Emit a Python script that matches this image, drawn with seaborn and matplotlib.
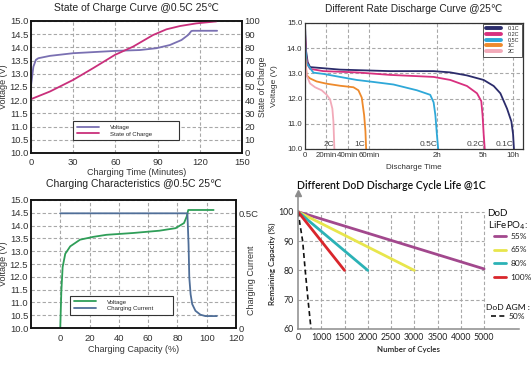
import numpy as np
import matplotlib
matplotlib.use('Agg')
import matplotlib.pyplot as plt
import seaborn as sns

# ---- State of charge curve @0.5C ----
soc_v_time = [0, 1.7, 3.5, 5.2, 13.5, 30, 60.8, 77.4, 89.2, 98.7, 107, 111.7, 114, 115.2, 132.3]
soc_v_volt = [12.55, 13.27, 13.53, 13.59, 13.68, 13.78, 13.87, 13.9, 13.97, 14.09, 14.28, 14.47, 14.62, 14.63, 14.63]
soc_time = [0, 13.5, 30, 44.2, 59.6, 72.6, 86.8, 96.3, 106, 117.6, 131.8]
soc_pct = [40.8, 46.6, 55.4, 64.3, 74.3, 80.6, 89.4, 93.7, 96.2, 98.2, 99.7]

# ---- Different rate discharge (time in hours) ----
rate_names = ['0.1C', '0.2C', '0.5C', '1C', '2C']
rate_colors = ['#2b2c6b', '#d8307f', '#2ea8d8', '#ee8a2c', '#f2aab9']
rate_time = [
    [0, .016, .041, .078, .544, 1.306, 1.946, 2.852, 3.947, 5.107, 6.775, 7.886, 8.996, 9.718, 9.996, 10.1],
    [0, .016, .041, .078, .285, .803, 1.306, 1.946, 2.852, 3.947, 4.604, 4.886, 4.97, 5.107, 5.286],
    [0, .026, .13, .285, .543, .803, 1.06, 1.354, 1.70, 1.896, 1.946, 1.972, 1.994, 2.06],
    [0, .026, .078, .181, .337, .544, .752, .829, .881, .918, .938, .949],
    [0, .026, .078, .156, .259, .337, .389, .425, .441, .456],
]
rate_volt = [
    [14.9, 13.9, 13.45, 13.25, 13.15, 13.09, 13.09, 13.04, 12.92, 12.74, 12.5, 12.21, 11.6, 11.09, 10.59, 10.0],
    [14.6, 13.7, 13.35, 13.18, 13.09, 13.04, 12.94, 12.86, 12.74, 12.5, 12.21, 11.9, 11.34, 10.59, 10.0],
    [14.2, 13.4, 13.03, 12.98, 12.86, 12.74, 12.66, 12.56, 12.33, 12.15, 11.85, 11.34, 10.59, 10.0],
    [13.8, 12.92, 12.8, 12.68, 12.59, 12.51, 12.45, 12.33, 12.04, 11.34, 10.71, 10.0],
    [13.6, 12.92, 12.6, 12.45, 12.33, 12.15, 11.97, 11.6, 11.09, 10.0],
]
time_ticks = [0, 1/3, 2/3, 1, 2, 5, 10]
time_labels = ['0', '20min', '40min', '60min', '2h', '5h', '10h']

# ---- Charging characteristics @0.5C ----
chg_cap = [0, 0.7, 1.6, 3.4, 6.8, 13.5, 22.5, 31.5, 49.5, 67.6, 78.8, 84.5, 86.3, 87.4, 104.7]
chg_volt = [10.03, 11.4, 12.38, 12.9, 13.19, 13.45, 13.56, 13.64, 13.71, 13.8, 13.9, 14.1, 14.35, 14.61, 14.61]
cur_cap = [0, 86.8, 87.6, 88.1, 89.0, 90.1, 92.3, 95.7, 99.1, 106.9]
cur_c = [0.5, 0.5, 0.364, 0.22, 0.147, 0.104, 0.075, 0.058, 0.052, 0.052]

# ---- DoD cycle life ----
dod_names = ['55%', '65%', '80%', '100%']
dod_colors = ['#a2488d', '#e8e64c', '#2bb2b6', '#d9262c']
dod_cycles = [[0, 5000], [0, 3000], [0, 2000], [0, 1500]]
dod_cap = [[100, 80.5], [100, 80], [100, 80], [100, 80]]
agm_cycles = [0, 200, 310, 430, 560]
agm_cap = [100, 90, 80, 70, 60]
cycle_ticks = [0, 1000, 1500, 2000, 2500, 3000, 3500, 4000, 5000]

sns.set_theme(style='white')
plt.rcParams['font.family'] = ['Liberation Sans', 'DejaVu Sans']
plt.rcParams['axes.unicode_minus'] = False

fig = plt.figure(figsize=(5.32, 3.69), dpi=100)
W, H = 532, 369


def add_ax(l, t, r, b):
    return fig.add_axes([l / W, 1 - b / H, (r - l) / W, (b - t) / H])


def interp_scale(vals, pos):
    vals = np.asarray(vals, float)
    pos = np.asarray(pos, float)
    return (lambda x: np.interp(x, vals, pos), lambda p: np.interp(p, pos, vals))


grid_kw = dict(color='#a8a8a8', linestyle=(0, (3, 2)), linewidth=0.8)
txt = '#333333'

# ---------- panel 1 ----------
ax1 = add_ax(31, 21, 242, 153)
sns.lineplot(x=soc_v_time, y=soc_v_volt, ax=ax1, color='#7a70b2', lw=1.3, sort=False,
             estimator=None, label='Voltage', legend=False)
ax1r = ax1.twinx()
sns.lineplot(x=soc_time, y=soc_pct, ax=ax1r, color='#c92f7b', lw=1.3, sort=False,
             estimator=None, label='State of Charge', legend=False)
ax1.set_xlim(0, 150)
ax1.set_ylim(10, 15)
ax1r.set_ylim(0, 100)
ax1.set_xticks(range(0, 151, 30))
ax1.set_yticks(np.arange(10, 15.01, 0.5))
ax1.set_yticklabels([f'{v:.1f}' for v in np.arange(10, 15.01, 0.5)])
ax1r.set_yticks(range(0, 101, 10))
ax1.grid(True, **grid_kw)
ax1.set_title('State of Charge Curve @0.5C 25℃', fontsize=7.5, pad=7, color='#222')
ax1.set_xlabel('Charging Time (Minutes)', fontsize=6.5, labelpad=1, color=txt)
ax1.set_ylabel('Voltage (V)', fontsize=6.5, labelpad=1, color=txt)
ax1r.set_ylabel('State of Charge', fontsize=6.2, color=txt)
ax1r.yaxis.set_label_coords(1.076, 0.5)
for a in (ax1, ax1r):
    a.tick_params(length=0, pad=2, labelsize=6.8, colors=txt)
    for s in a.spines.values():
        s.set_color('#111')
        s.set_linewidth(1.1)
ax1.tick_params(axis='x', pad=3.5)
h1 = ax1.get_lines()[:1] + ax1r.get_lines()[:1]
ax1.legend(h1, ['Voltage', 'State of Charge'], loc='lower left',
           bbox_to_anchor=(39 / 211, 0.075, 112 / 211, 0.16), mode='expand',
           fontsize=4.3, handlelength=3.8, handletextpad=1.8, borderpad=0.6,
           labelspacing=0.25, frameon=True, fancybox=False, edgecolor='#333',
           framealpha=1).get_frame().set_linewidth(0.8)

# ---------- panel 2 ----------
ax2 = add_ax(305, 23, 523, 149)
fwd, inv = interp_scale([0, 1/3, 2/3, 1, 2, 5, 10, 12], [0, 1, 2, 3, 6.16, 8.29, 9.69, 10.5])
ax2.set_xscale('function', functions=(fwd, inv))
for name, col, t, v in zip(rate_names, rate_colors, rate_time, rate_volt):
    sns.lineplot(x=t, y=v, ax=ax2, color=col, lw=1.3, sort=False, estimator=None,
                 label=name, legend=False)
    ax2.text(t[-1] - 0.01 * t[-1], 10.05, name, ha='right', va='bottom', fontsize=6,
             color='#444')
ax2.set_xlim(0, 11.14)
ax2.set_ylim(10, 15)
ax2.set_xticks(time_ticks)
ax2.set_xticklabels(time_labels)
ax2.minorticks_off()
ax2.set_yticks(range(10, 16))
ax2.set_yticklabels([f'{v:.1f}' for v in range(10, 16)])
ax2.grid(True, **grid_kw)
ax2.set_title('Different Rate Discharge Curve @25℃', fontsize=7.3, pad=8, color='#222')
ax2.set_xlabel('Discharge Time', fontsize=5.8, labelpad=4, color=txt)
ax2.set_ylabel('Voltage (V)', fontsize=6.0, color=txt)
ax2.yaxis.set_label_coords(-0.125, 0.5)
ax2.tick_params(length=0, pad=2, labelsize=5.7, colors=txt)
for s in ax2.spines.values():
    s.set_color('#333')
    s.set_linewidth(0.9)
leg2 = ax2.legend(loc='upper right', fontsize=4, handlelength=2.8, handletextpad=1.2,
                  borderpad=0.45, labelspacing=0.12, frameon=True, fancybox=False,
                  edgecolor='#555', framealpha=1, borderaxespad=0.15)
leg2.get_frame().set_linewidth(0.7)
for ln in leg2.get_lines():
    ln.set_linewidth(2.8)

# ---------- panel 3 ----------
ax3 = add_ax(31, 200, 236, 328)
sns.lineplot(x=chg_cap, y=chg_volt, ax=ax3, color='#2f9e58', lw=1.3, sort=False,
             estimator=None, label='Voltage', legend=False)
ax3r = ax3.twinx()
sns.lineplot(x=cur_cap, y=cur_c, ax=ax3r, color='#4f6e98', lw=1.3, sort=False,
             estimator=None, label='Charging Current', legend=False)
ax3.set_xlim(-20, 120)
ax3.set_ylim(10, 15)
ax3r.set_ylim(0, 0.5 * 5 / 4.48)
ax3.set_xticks(range(0, 121, 20))
ax3.set_yticks(np.arange(10, 15.01, 0.5))
ax3.set_yticklabels([f'{v:.1f}' for v in np.arange(10, 15.01, 0.5)])
ax3r.set_yticks([0, 0.5])
ax3r.set_yticklabels(['0', '0.5C'])
ax3.grid(True, **grid_kw)
ax3.set_title('Charging Characteristics @0.5C 25℃', fontsize=7.5, pad=9, color='#222')
ax3.set_xlabel('Charging Capacity (%)', fontsize=6.5, labelpad=1, color=txt)
ax3.set_ylabel('Voltage (V)', fontsize=6.5, labelpad=1, color=txt)
ax3r.set_ylabel('Charging Current', fontsize=6.5, color=txt)
ax3r.yaxis.set_label_coords(1.055, 0.37)
for a in (ax3, ax3r):
    a.tick_params(length=0, pad=2, labelsize=6.8, colors=txt)
    for s in a.spines.values():
        s.set_color('#111')
        s.set_linewidth(1.1)
ax3.tick_params(axis='x', pad=4.5)
h3 = ax3.get_lines()[:1] + ax3r.get_lines()[:1]
ax3.legend(h3, ['Voltage', 'Charging Current'], loc='lower left',
           bbox_to_anchor=(36 / 205, 0.08, 109 / 205, 0.16), mode='expand',
           fontsize=4.3, handlelength=3.8, handletextpad=1.8, borderpad=0.6,
           labelspacing=0.25, frameon=True, fancybox=False, edgecolor='#333',
           framealpha=1).get_frame().set_linewidth(0.8)

# ---------- panel 4 ----------
ax4 = add_ax(298, 193, 519, 329)
cfwd, cinv = interp_scale(cycle_ticks + [6500], list(range(9)) + [9.5])
ax4.set_xscale('function', functions=(cfwd, cinv))
for name, col, cx, cy in zip(dod_names, dod_colors, dod_cycles, dod_cap):
    sns.lineplot(x=cx, y=cy, ax=ax4, color=col, lw=2, sort=False, estimator=None,
                 label=name, legend=False)
sns.lineplot(x=agm_cycles, y=agm_cap, ax=ax4, color='#111', lw=1.2, sort=False,
             estimator=None, label='50%', legend=False, linestyle=(0, (3, 2)))
ax4.set_xlim(0, 6500)
ax4.set_ylim(60, 106.4)
ax4.vlines(cycle_ticks[1:], 60, 100, zorder=0, **grid_kw)
ax4.hlines([70, 80, 90, 100], 0, 5000, zorder=0, **grid_kw)
ax4.set_xticks(cycle_ticks)
ax4.minorticks_off()
ax4.set_yticks([60, 70, 80, 90, 100])
for s in ('top', 'right'):
    ax4.spines[s].set_visible(False)
for s in ('left', 'bottom'):
    ax4.spines[s].set_color('#8c8c8c')
    ax4.spines[s].set_linewidth(1.1)
ax4.plot(1, 0, '>', color='#8c8c8c', ms=4, transform=ax4.get_yaxis_transform(), clip_on=False)
ax4.plot(0, 1, '^', color='#8c8c8c', ms=4, transform=ax4.get_xaxis_transform(), clip_on=False)
f4 = ['Lato', 'DejaVu Sans']
ax4.tick_params(length=0, pad=3, labelsize=6.3, colors='#222')
for lab in ax4.get_xticklabels() + ax4.get_yticklabels():
    lab.set_family(f4)
ax4.set_title('Different DoD Discharge Cycle Life @1C', fontsize=7.6, pad=3,
              family=f4, weight='semibold', color='#111', loc='left', x=-0.005)
ax4.set_xlabel('Number of Cycles', fontsize=5.8, labelpad=3, family=f4, weight='semibold',
               color='#222')
ax4.set_ylabel('Remaining Capacity (%)', fontsize=5.8, family=f4,
               weight='semibold', color='#222')
ax4.yaxis.set_label_coords(-0.1, 0.48)
fig.text(487.5 / W, 1 - 213 / H, 'DoD', fontsize=7, family=f4, va='center', color='#111')
fig.text(487.5 / W, 1 - 226 / H, 'LiFePO$_4$:', fontsize=7, family=f4, va='center',
         color='#111')
fig.text(486 / W, 1 - 307 / H, 'DoD AGM :', fontsize=6.1, family=f4, va='center',
         color='#111')
hd = ax4.get_lines()
leg4 = fig.legend(hd[:4], dod_names, loc='upper left', bbox_to_anchor=(494 / W, 1 - 233 / H),
                  frameon=False, handlelength=1.45, handletextpad=0.5, borderpad=0,
                  borderaxespad=0, labelspacing=0.78, prop={'family': f4, 'size': 6})
for t in leg4.get_texts():
    t.set_color('#222')
leg5 = fig.legend(hd[4:5], ['50%'], loc='upper left', bbox_to_anchor=(491 / W, 1 - 313 / H),
                  frameon=False, handlelength=1.7, handletextpad=0.36, borderpad=0,
                  borderaxespad=0, prop={'family': f4, 'size': 6})
leg5.get_texts()[0].set_color('#222')

fig.savefig('out.png', dpi=100)
